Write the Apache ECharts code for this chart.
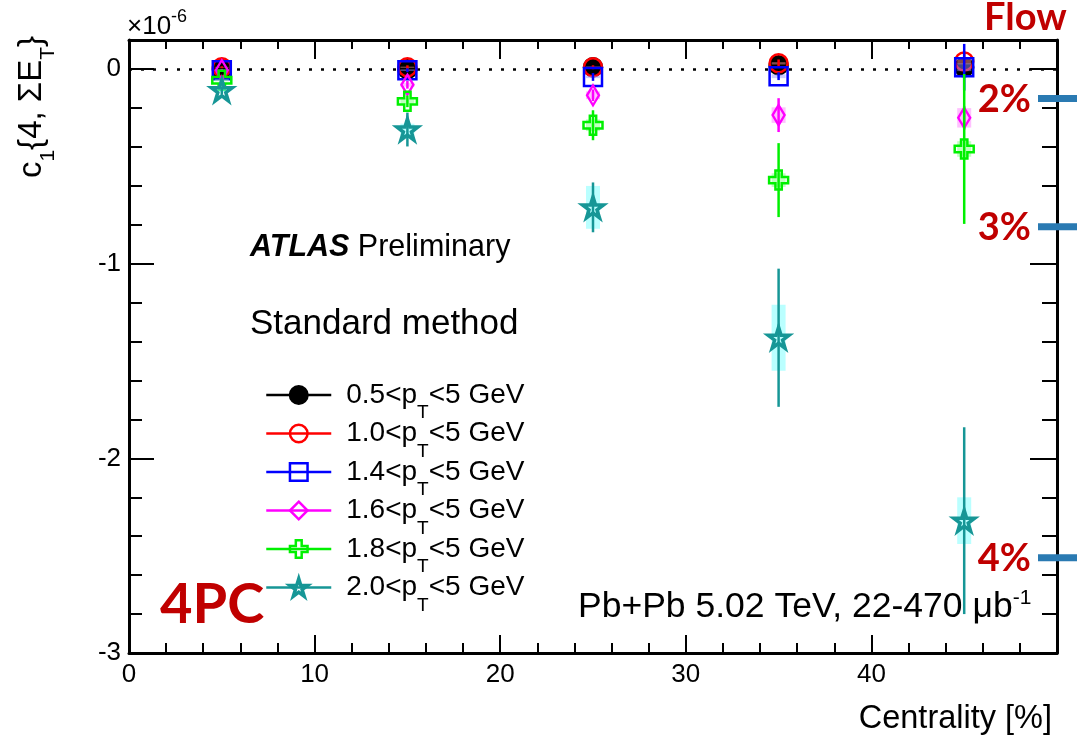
<!DOCTYPE html>
<html><head><meta charset="utf-8">
<script src="https://cdn.jsdelivr.net/npm/echarts@6/dist/echarts.min.js"></script>
<style>html,body{margin:0;padding:0;background:#fff}#c{width:1077px;height:738px}</style>
</head><body><div id="c"></div>
<script>
// ---------- data ----------
const centrality = [5, 15, 25, 35, 45];
const ptBins = ['0.5<p_T<5 GeV', '1.0<p_T<5 GeV', '1.4<p_T<5 GeV', '1.6<p_T<5 GeV', '1.8<p_T<5 GeV', '2.0<p_T<5 GeV'];
// c1{4, SumET} values (x 1e-6)
const c1_pt05 = [0.00, 0.00, 0.01, 0.02, 0.01];
const c1_pt10 = [0.01, 0.01, 0.01, 0.03, 0.04];
const c1_pt14 = [-0.005, -0.005, -0.04, -0.036, 0.01];
const c1_pt16 = [-0.005, -0.08, -0.134, -0.236, -0.25];
const c1_pt18 = [-0.057, -0.165, -0.288, -0.57, -0.41];
const c1_pt20 = [-0.108, -0.31, -0.71, -1.38, -2.32];
// statistical errors
const stat_pt05 = [0.005, 0.005, 0.01, 0.01, 0.02];
const stat_pt10 = [0.005, 0.01, 0.01, 0.02, 0.05];
const stat_pt14 = [0.005, 0.01, 0.02, 0.02, 0.12];
const stat_pt16 = [0.005, 0.02, 0.03, 0.087, 0.06];
const stat_pt18 = [0.01, 0.03, 0.077, 0.19, 0.385];
const stat_pt20 = [0.02, 0.087, 0.128, 0.355, 0.48];
// systematic errors (boxes)
const sys_pt05 = [0.002, 0.002, 0.004, 0.005, 0.01];
const sys_pt10 = [0.002, 0.003, 0.004, 0.006, 0.015];
const sys_pt14 = [0.002, 0.004, 0.006, 0.01, 0.02];
const sys_pt16 = [0.003, 0.01, 0.02, 0.04, 0.05];
const sys_pt18 = [0.005, 0.015, 0.03, 0.035, 0.04];
const sys_pt20 = [0.01, 0.03, 0.11, 0.17, 0.12];
// flow reference levels  (-v1^4, x 1e-6)
const flowLabels = ['2%', '3%', '4%'];
const flowValues = [-0.15, -0.81, -2.51];

// ---------- style ----------
const FONT = 'Liberation Sans';
const RED = '#c00000';
const starPath = 'path://M0,-1000L224,-309L951,-309L363,118L588,809L0,382L-588,809L-363,118L-951,-309L-224,-309Z';
const crossPath = 'path://M-1,-3L1,-3L1,-1L3,-1L3,1L1,1L1,3L-1,3L-1,1L-3,1L-3,-1L-1,-1Z';

const defs = [
  {name: ptBins[0], v: c1_pt05, st: stat_pt05, sy: sys_pt05, color: '#000000', box: 'rgba(120,120,120,0.3)', symbol: 'circle', size: 18, bw: 2.5, filled: true},
  {name: ptBins[1], v: c1_pt10, st: stat_pt10, sy: sys_pt10, color: '#ff0000', box: 'rgba(255,150,150,0.5)', symbol: 'circle', size: 18, bw: 2.5},
  {name: ptBins[2], v: c1_pt14, st: stat_pt14, sy: sys_pt14, color: '#0000ff', box: 'rgba(150,150,255,0.5)', symbol: 'rect', size: 18, bw: 2.5},
  {name: ptBins[3], v: c1_pt16, st: stat_pt16, sy: sys_pt16, color: '#ff00ff', box: 'rgba(255,150,255,0.6)', symbol: 'diamond', size: [12, 20], bw: 2.5},
  {name: ptBins[4], v: c1_pt18, st: stat_pt18, sy: sys_pt18, color: '#00f000', box: 'rgba(150,255,150,0.6)', symbol: crossPath, size: 19, bw: 2.5},
  {name: ptBins[5], v: c1_pt20, st: stat_pt20, sy: sys_pt20, color: '#169696', box: 'rgba(130,255,255,0.55)', symbol: starPath, size: 21, bw: 3.5}
];

function errRender(color, boxColor) {
  return function (params, api) {
    const x = api.value(0), y = api.value(1), e = api.value(2), s = api.value(3);
    const top = api.coord([x, y + e]), bot = api.coord([x, y - e]);
    const sTop = api.coord([x, y + s]), sBot = api.coord([x, y - s]);
    const w = 14;
    return {type: 'group', children: [
      {type: 'rect', shape: {x: sTop[0] - w / 2, y: sTop[1], width: w, height: Math.max(0, sBot[1] - sTop[1])}, style: {fill: boxColor}},
      {type: 'line', shape: {x1: top[0], y1: top[1], x2: bot[0], y2: bot[1]}, style: {stroke: color, lineWidth: 2.5}}
    ]};
  };
}

const series = [];
defs.forEach((d, i) => {
  series.push({
    type: 'custom', name: 'err' + i, silent: true, clip: false, z: 2 + 2 * i,
    data: centrality.map((x, k) => [x, d.v[k], d.st[k], d.sy[k]]),
    renderItem: errRender(d.color, d.box)
  });
  const s = {
    type: 'line', name: d.name, silent: true, z: 3 + 2 * i, color: d.color,
    data: centrality.map((x, k) => [x, d.v[k]]),
    symbol: d.symbol, symbolSize: d.size, showSymbol: true, showAllSymbol: true,
    lineStyle: {width: 0, opacity: 0},
    itemStyle: {color: d.filled ? d.color : 'rgba(255,255,255,0)', borderColor: d.color, borderWidth: d.bw, opacity: 1},
    emphasis: {disabled: true}
  };
  if (i === 0) {
    s.markLine = {silent: true, symbol: ['none', 'none'], label: {show: false},
      lineStyle: {color: '#000', type: [3, 9], width: 2.5}, data: [{yAxis: 0}], z: 1};
  }
  series.push(s);
});
series.push({
  type: 'custom', name: 'flow', silent: true, clip: false, z: 30,
  data: flowValues.map((v, k) => [50, v, k]),
  renderItem: function (params, api) {
    const p = api.coord([api.value(0), api.value(1)]);
    const k = api.value(2);
    return {type: 'group', children: [
      {type: 'rect', shape: {x: p[0] - 19, y: p[1] - 3.5, width: 45, height: 7}, style: {fill: '#2a7ab2'}},
      {type: 'text', x: p[0] - 26, y: p[1] + 1, style: {text: flowLabels[k], fontSize: 38, fontWeight: 'bold', fontFamily: 'Lato', fill: RED, align: 'right', verticalAlign: 'middle'}}
    ]};
  }
});

const tickCol = {color: '#000', width: 2};
const yBase = {type: 'value', min: -3, max: 0.15, splitLine: {show: false}, minorSplitLine: {show: false}};
const option = {
  animation: false,
  backgroundColor: '#fff',
  grid: {left: 129, right: 20, top: 40, bottom: 85, containLabel: false, outerBoundsMode: 'none'},
  xAxis: [
    {type: 'value', position: 'bottom', min: 0, max: 50, interval: 10,
      axisLine: {show: true, onZero: false, lineStyle: {color: '#000', width: 3}},
      axisTick: {show: true, inside: true, length: 18, lineStyle: tickCol},
      minorTick: {show: true, splitNumber: 5, length: 10, lineStyle: tickCol},
      axisLabel: {show: true, margin: 9, color: '#000', fontSize: 26, fontFamily: FONT, showMaxLabel: false},
      splitLine: {show: false}, minorSplitLine: {show: false}},
    {type: 'value', position: 'top', min: 0, max: 50, interval: 10,
      axisLine: {show: true, onZero: false, lineStyle: {color: '#000', width: 3}},
      axisTick: {show: true, inside: true, length: 19, lineStyle: tickCol},
      minorTick: {show: true, splitNumber: 5, length: 9, lineStyle: tickCol},
      axisLabel: {show: false}, splitLine: {show: false}, minorSplitLine: {show: false}}
  ],
  yAxis: [
    Object.assign({}, yBase, {position: 'left', interval: 1,
      axisLine: {show: true, onZero: false, lineStyle: {color: '#000', width: 3}},
      axisTick: {show: true, inside: true, length: 25, lineStyle: tickCol},
      axisLabel: {show: true, margin: 8, color: '#000', fontSize: 26, fontFamily: FONT,
        formatter: v => (Math.abs(v - Math.round(v)) < 1e-9 ? String(Math.round(v)) : '')}}),
    Object.assign({}, yBase, {position: 'left', interval: 0.2,
      axisLine: {show: false, onZero: false},
      axisTick: {show: true, inside: true, length: 13, lineStyle: tickCol},
      axisLabel: {show: false}}),
    Object.assign({}, yBase, {position: 'right', interval: 1,
      axisLine: {show: true, onZero: false, lineStyle: {color: '#000', width: 3}},
      axisTick: {show: true, inside: true, length: 27, lineStyle: tickCol},
      axisLabel: {show: false}}),
    Object.assign({}, yBase, {position: 'right', interval: 0.2,
      axisLine: {show: false, onZero: false},
      axisTick: {show: true, inside: true, length: 15, lineStyle: tickCol},
      axisLabel: {show: false}})
  ],
  legend: {
    orient: 'vertical', left: 265, top: 381, padding: 0, itemWidth: 65, itemHeight: 22, itemGap: -3,
    selectedMode: false,
    data: defs.map(d => ({name: d.name,
      itemStyle: {color: d.filled ? d.color : 'rgba(255,255,255,0)', borderColor: d.color, borderWidth: d.bw},
      lineStyle: {color: d.color, width: 2.5, opacity: 1}})),
    formatter: name => name.replace('p_T', 'p{s|T}'),
    textStyle: {color: '#000', fontSize: 28, fontFamily: FONT, padding: [0, 0, 0, 10],
      rich: {s: {fontSize: 19, fontFamily: FONT, color: '#000', padding: [36, 0, 0, 0]}}}
  },
  graphic: [
    {type: 'text', x: 32, y: 107, rotation: Math.PI / 2, silent: true,
      style: {text: 'c{s|1}{4, ΣE{s|T}}', fontSize: 33, fontFamily: FONT, fill: '#000', align: 'center', verticalAlign: 'middle',
        rich: {s: {fontSize: 21, fontFamily: FONT, fill: '#000', padding: [32, 0, 0, 0]}}}},
    {type: 'text', x: 127, y: 27, silent: true,
      style: {text: '×10{u|-6}', fontSize: 26, fontFamily: FONT, fill: '#000', align: 'left', verticalAlign: 'middle',
        rich: {u: {fontSize: 18, fontFamily: FONT, fill: '#000', padding: [0, 0, 20, 0]}}}},
    {type: 'text', x: 1052, y: 719, silent: true,
      style: {text: 'Centrality [%]', fontSize: 32.5, fontFamily: FONT, fill: '#000', align: 'right', verticalAlign: 'middle'}},
    {type: 'text', x: 250, y: 248, silent: true,
      style: {text: '{b|ATLAS} Preliminary', fontSize: 30.5, fontFamily: FONT, fill: '#000', align: 'left', verticalAlign: 'middle',
        rich: {b: {fontSize: 30.5, fontFamily: FONT, fontWeight: 'bold', fontStyle: 'italic', fill: '#000'}}}},
    {type: 'text', x: 250, y: 324, silent: true,
      style: {text: 'Standard method', fontSize: 35, fontFamily: FONT, fill: '#000', align: 'left', verticalAlign: 'middle'}},
    {type: 'text', x: 578, y: 607, silent: true,
      style: {text: 'Pb+Pb 5.02 TeV, 22-470 μb{u|-1}', fontSize: 35.5, fontFamily: FONT, fill: '#000', align: 'left', verticalAlign: 'middle',
        rich: {u: {fontSize: 21, fontFamily: FONT, fill: '#000', padding: [0, 0, 18, 0]}}}},
    {type: 'text', x: 160, y: 605, silent: true,
      style: {text: '4PC', fontSize: 56, fontWeight: 'bold', fontFamily: 'Lato', fill: RED, align: 'left', verticalAlign: 'middle'}},
    {type: 'text', x: 984, y: 18, silent: true,
      style: {text: 'Flow', fontSize: 38, fontWeight: 'bold', fontFamily: 'Lato', fill: RED, align: 'left', verticalAlign: 'middle'}}
  ],
  series: series
};
const chart = echarts.init(document.getElementById('c'), null, {renderer: 'canvas'});
chart.setOption(option);
</script></body></html>
